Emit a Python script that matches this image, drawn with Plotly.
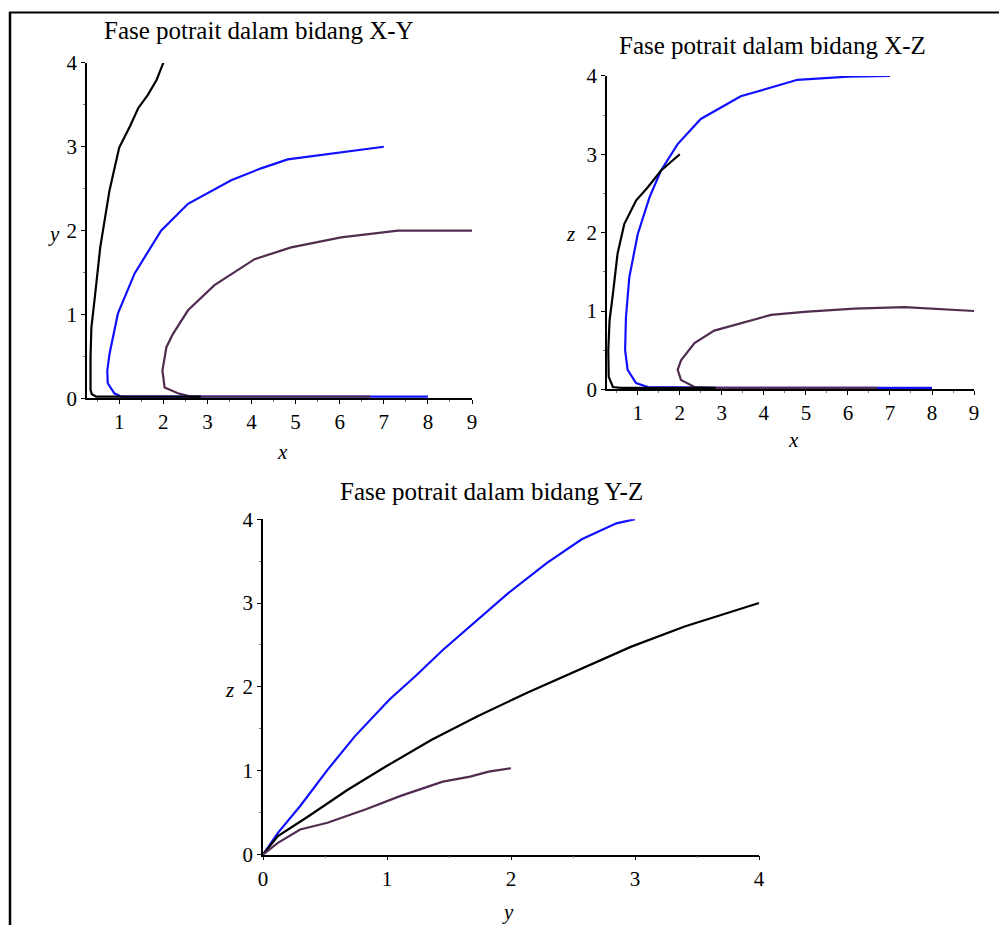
import plotly.graph_objects as go

# ---- data: trajectories ----
# Panel X-Y
xy_black_x = [2.0, 1.85, 1.65, 1.43, 1.25, 1.0, 0.78, 0.57, 0.44, 0.37, 0.35, 0.35, 0.38, 0.48, 0.8, 2.85]
xy_black_y = [4.0, 3.8, 3.62, 3.46, 3.25, 2.99, 2.48, 1.8, 1.17, 0.85, 0.5, 0.1, 0.05, 0.02, 0.02, 0.02]
xy_blue_x = [7.0, 6.0, 4.82, 4.2, 3.54, 2.56, 1.95, 1.35, 0.97, 0.78, 0.73, 0.74, 0.89, 1.05, 3.0, 8.0]
xy_blue_y = [3.0, 2.93, 2.85, 2.74, 2.6, 2.32, 2.0, 1.49, 1.01, 0.53, 0.33, 0.18, 0.06, 0.02, 0.02, 0.02]
xy_purple_x = [9.0, 7.32, 6.03, 4.9, 4.07, 3.16, 2.56, 2.22, 2.07, 1.98, 2.03, 2.33, 2.63, 4.0, 6.7]
xy_purple_y = [2.0, 2.0, 1.92, 1.8, 1.66, 1.35, 1.05, 0.77, 0.61, 0.33, 0.13, 0.06, 0.02, 0.02, 0.02]

# Panel X-Z
xz_black_x = [2.0, 1.55, 1.24, 0.96, 0.68, 0.52, 0.41, 0.33, 0.30, 0.31, 0.41, 0.6, 2.85]
xz_black_z = [3.0, 2.79, 2.58, 2.41, 2.11, 1.73, 1.22, 0.88, 0.5, 0.16, 0.03, 0.02, 0.02]
xz_blue_x = [7.0, 6.0, 4.8, 3.45, 2.5, 1.95, 1.55, 1.28, 1.0, 0.8, 0.72, 0.7, 0.76, 0.96, 1.24, 3.0, 8.0]
xz_blue_z = [4.0, 3.99, 3.95, 3.74, 3.45, 3.13, 2.79, 2.45, 1.98, 1.43, 0.92, 0.5, 0.25, 0.08, 0.03, 0.02, 0.02]
xz_purple_x = [9.0, 7.34, 6.15, 4.96, 4.17, 3.45, 2.82, 2.35, 2.03, 1.95, 2.03, 2.35, 2.66, 4.0, 6.7]
xz_purple_z = [1.0, 1.05, 1.03, 0.99, 0.95, 0.84, 0.75, 0.59, 0.37, 0.25, 0.12, 0.03, 0.02, 0.02, 0.02]

# Panel Y-Z
yz_blue_y = [3.0, 2.85, 2.57, 2.29, 1.98, 1.73, 1.45, 1.23, 1.02, 0.74, 0.52, 0.30, 0.12, 0.0]
yz_blue_z = [4.0, 3.95, 3.76, 3.48, 3.12, 2.8, 2.44, 2.13, 1.85, 1.41, 1.01, 0.58, 0.26, 0.0]
yz_black_y = [4.0, 3.4, 2.97, 2.6, 2.13, 1.73, 1.36, 0.99, 0.68, 0.37, 0.12, 0.0]
yz_black_z = [3.0, 2.72, 2.48, 2.24, 1.93, 1.65, 1.37, 1.05, 0.77, 0.46, 0.22, 0.0]
yz_purple_y = [2.0, 1.82, 1.67, 1.45, 1.11, 0.83, 0.52, 0.30, 0.12, 0.0]
yz_purple_z = [1.03, 0.99, 0.93, 0.87, 0.70, 0.54, 0.38, 0.30, 0.14, 0.0]

titles = ["Fase potrait dalam bidang X-Y", "Fase potrait dalam bidang X-Z", "Fase potrait dalam bidang Y-Z"]
BLACK, BLUE, PURPLE = "#000000", "#1010ff", "#502d50"
FONT = "Liberation Serif"
W, H = 1005, 937

fig = go.Figure()

def add(x, y, color, xa, ya):
    fig.add_trace(go.Scatter(x=x, y=y, mode="lines", line=dict(color=color, width=2.2),
                             xaxis=xa, yaxis=ya, showlegend=False, hoverinfo="skip"))

add(xy_blue_x, xy_blue_y, BLUE, "x", "y")
add(xy_purple_x, xy_purple_y, PURPLE, "x", "y")
add(xy_black_x, xy_black_y, BLACK, "x", "y")
add(xz_blue_x, xz_blue_z, BLUE, "x2", "y2")
add(xz_purple_x, xz_purple_z, PURPLE, "x2", "y2")
add(xz_black_x, xz_black_z, BLACK, "x2", "y2")
add(yz_blue_y, yz_blue_z, BLUE, "x3", "y3")
add(yz_black_y, yz_black_z, BLACK, "x3", "y3")
add(yz_purple_y, yz_purple_z, PURPLE, "x3", "y3")

# screen-pixel targets -> paper fractions (compensating the observed capture transform)
AX, BX, AY, BY = 0.989, 4.0, 0.976, 11.0

def px(v):
    return ((v - BX) / AX) / W

def py(v):
    return 1 - ((v - BY) / AY) / H

def axis(domain, rng, anchor, dtick=1):
    return dict(domain=domain, range=rng, anchor=anchor, showgrid=False, zeroline=False,
                showline=True, linecolor="black", linewidth=1.5, ticks="outside", ticklen=4,
                tickcolor="black", dtick=dtick, tick0=0,
                tickfont=dict(family=FONT, size=21, color="black"),
                minor=dict(ticks="outside", ticklen=2, tickcolor="#777", dtick=0.5, tick0=0),
                fixedrange=True)

fig.update_layout(
    width=W, height=H, margin=dict(l=0, r=0, t=0, b=0),
    paper_bgcolor="white", plot_bgcolor="white",
    xaxis=axis([px(86), px(471)], [0.27, 9], "y"),
    yaxis=axis([py(398), py(62)], [0, 4], "x"),
    xaxis2=axis([px(606), px(973)], [0.27, 9], "y2"),
    yaxis2=axis([py(389), py(75)], [0, 4], "x2"),
    xaxis3=axis([px(262), px(758)], [0, 4], "y3"),
    yaxis3=axis([py(855), py(519)], [0, 4], "x3"),
)

ann = []
for t, (cx, cy) in zip(titles, [(258, 30), (771, 45), (490, 491)]):
    ann.append(dict(text=t, x=px(cx), y=py(cy), xref="paper", yref="paper", showarrow=False,
                    xanchor="center", yanchor="middle", font=dict(family=FONT, size=25, color="black")))
for t, (cx, cy) in zip(["x", "y", "x", "z", "y", "z"],
                       [(281, 452), (53, 233), (792, 440), (569, 233), (507, 912), (228, 690)]):
    ann.append(dict(text="<i>" + t + "</i>", x=px(cx), y=py(cy), xref="paper", yref="paper",
                    showarrow=False, xanchor="center", yanchor="middle",
                    font=dict(family=FONT, size=21, color="black")))
fig.update_layout(annotations=ann)

fig.update_layout(shapes=[
    dict(type="line", xref="paper", yref="paper", x0=px(8), x1=1, y0=py(11.5), y1=py(11.5),
         line=dict(color="black", width=2)),
    dict(type="line", xref="paper", yref="paper", x0=px(9), x1=px(9), y0=py(11), y1=0,
         line=dict(color="black", width=2.5)),
])

fig.write_html("out.html", config={"displayModeBar": False},
               post_script="document.body.style.margin='0';document.body.style.overflow='hidden';")
